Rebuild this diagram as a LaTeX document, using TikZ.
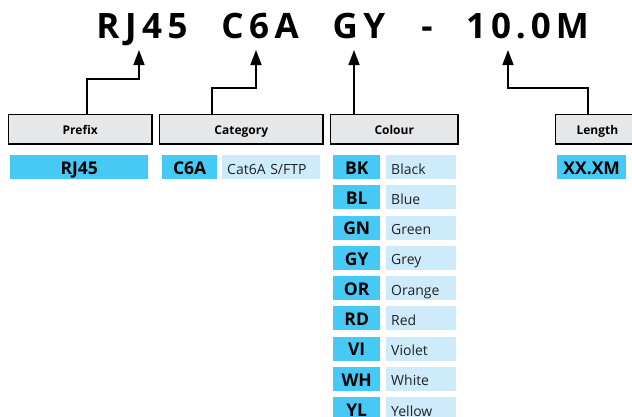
\documentclass[tikz,border=0pt]{standalone}
\usepackage{fontspec}
\setmainfont{Open Sans}
\usetikzlibrary{arrows.meta,calc}
\definecolor{hdrfill}{HTML}{E6E7E9}
\definecolor{codeblue}{HTML}{47C9F6}
\definecolor{nameblue}{HTML}{CDEBFA}
\definecolor{nametext}{HTML}{222222}
\begin{document}
\begin{tikzpicture}[x=1pt,y=-1pt,
  ttl/.style={anchor=base,inner sep=0pt,font=\bfseries\fontsize{35}{38}\selectfont},
  hdrbox/.style={draw=black,line width=1.5pt,fill=hdrfill,anchor=north west,inner sep=0pt,
    minimum height=29.5pt,text height=11pt,text depth=0pt,font=\bfseries\fontsize{12}{14}\selectfont},
  codecell/.style={fill=codeblue,anchor=north west,inner sep=0pt,minimum height=24pt,
    text height=14.5pt,text depth=0pt,font=\bfseries\fontsize{17.5}{19}\selectfont},
  namecell/.style={fill=nameblue,anchor=north west,inner sep=0pt,inner xsep=5pt,minimum height=24pt,
    text height=14pt,text depth=0pt,align=left,text=nametext,font=\fontsize{14}{16}\selectfont},
  arr/.style={draw=black,line width=1.5pt,-{Triangle[length=15pt,width=11pt]}}]
\useasboundingbox (0,0) rectangle (632,416);
\clip (0,0) rectangle (632,416);
% title
\node[ttl] (w1) at (142,38) {R\kern5.5pt J\kern5.5pt 4\kern5.5pt 5};
\node[ttl] (w2) at (260,38) {C\kern5.5pt 6\kern5.5pt A};
\node[ttl] (w3) at (359,38) {G\kern5.5pt Y};
\node[ttl] (w4) at (427,38) {-};
\node[ttl] (w5) at (527.5,38) {1\kern5pt 0\kern5pt .\kern5pt 0\kern5pt M};
% headers
\node[hdrbox,minimum width=143.5pt] (prefix) at (7.75,113.75) {Prefix};
\node[hdrbox,minimum width=163.5pt] (category) at (158.75,113.75) {Category};
\node[hdrbox,minimum width=127.5pt] (colour) at (329.75,113.75) {Colour};
\node[hdrbox,minimum width=100pt,text width=58pt,inner xsep=21pt,align=left] (length) at (554.75,113.75) {Length};
% arrow coordinates
\coordinate (t1) at (139,50); \coordinate (b1) at (87,79);
\coordinate (t2) at (256,50); \coordinate (b2) at (212,88);
\coordinate (t3) at (354,50);
\coordinate (t4) at (508,50); \coordinate (b4) at (588,88);
\draw[arr] (prefix.north -| b1) -- (b1) -- (b1 -| t1) -- (t1);
\draw[arr] (category.north -| b2) -- (b2) -- (b2 -| t2) -- (t2);
\draw[arr] (colour.north -| t3) -- (t3);
\draw[arr] (length.north -| b4) -- (b4) -- (b4 -| t4) -- (t4);
% prefix / category / length cells
\node[codecell,minimum width=138pt] (rj) at (10,155) {RJ45};
\node[codecell,minimum width=55pt] (c6a) at (162,155) {C6A};
\node[namecell,text width=88pt] (cat) at (222,155) {Cat6A S/FTP};
\node[codecell,minimum width=69pt] (xx) at (557,155) {XX.XM};
% colour cells
\foreach \c/\n [count=\i from 0] in {BK/Black,BL/Blue,GN/Green,GY/Grey,OR/Orange,RD/Red,VI/Violet,WH/White,YL/Yellow}{
  \node[codecell,minimum width=47pt] (code\i) at (333,155+30.25*\i) {\c};
  \node[namecell,text width=60pt] (name\i) at (386,155+30.25*\i) {\n};
}
\end{tikzpicture}
\end{document}
